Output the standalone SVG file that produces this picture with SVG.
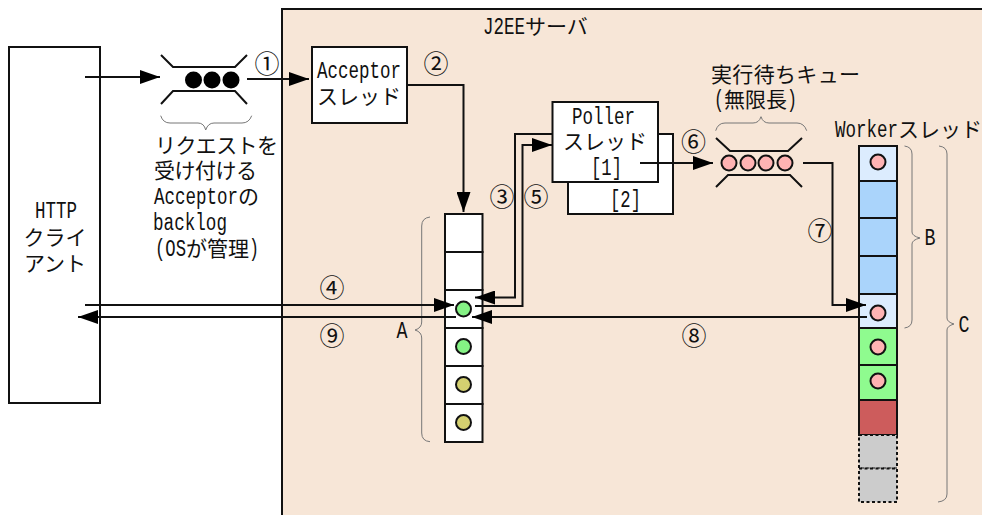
<svg xmlns="http://www.w3.org/2000/svg" width="982" height="515" viewBox="0 0 982 515">
<defs>
<marker id="ah" markerUnits="userSpaceOnUse" markerWidth="20" markerHeight="14" refX="20" refY="7" orient="auto"><path d="M0 0L20 7L0 14Z" fill="#000"/></marker>
</defs>
<style>
text{font-family:"Noto Sans CJK JP","Liberation Sans",sans-serif;font-size:21px;fill:#111}
.l{font-family:"Liberation Mono","Noto Sans CJK JP",monospace;font-size:23px}
.s{font-size:25px}
.b{fill:#fff;stroke:#111;stroke-width:2}
.c{stroke:#111;stroke-width:2;fill:none}
.a{marker-end:url(#ah)}
.br{stroke:#777;stroke-width:1;fill:none}
.dot{stroke:#111;stroke-width:2}
.p{fill:#ffb3b3}.g{fill:#85f285}.o{fill:#d4d070}.k{fill:#000;stroke:none}
.dash{fill:#ccc;stroke:#111;stroke-width:2;stroke-dasharray:3 2.5}
.n{text-anchor:middle}
</style>
<rect id="server" x="282" y="9" width="720" height="530" fill="#f7e6d7" stroke="#111" stroke-width="2"/>
<text x="483" y="34"><tspan class="l" textLength="42" lengthAdjust="spacingAndGlyphs">J2EE</tspan>サーバ</text>
<g id="client"><rect class="b" x="9" y="47" width="91" height="356"/>
<text class="l n" x="56" y="218" textLength="42" lengthAdjust="spacingAndGlyphs">HTTP</text>
<text class="n" x="55" y="245">クライ</text><text class="n" x="55" y="271">アント</text></g>
<g id="backlog-queue">
<path class="c" d="M161 55L173 67H235L247 55M161 104L173 91H235L247 104"/>
<circle class="k" cx="193.500" cy="80" r="8.500"/><circle class="k" cx="212" cy="80" r="8.500"/><circle class="k" cx="231" cy="80" r="8.500"/>
<path class="br" d="M160.700 115.700Q163 123 170 123H198Q204 123 205.700 130Q208 123 214 123H242Q249 123 251.700 115.700"/>
<text x="155" y="153" textLength="123">リクエストを</text>
<text x="154" y="178" textLength="103">受け付ける</text>
<text x="154" y="204"><tspan class="l" textLength="84" lengthAdjust="spacingAndGlyphs">Acceptor</tspan>の</text>
<text class="l" x="153" y="230" textLength="74" lengthAdjust="spacingAndGlyphs">backlog</text>
<text x="155" y="256"><tspan class="l" textLength="31" lengthAdjust="spacingAndGlyphs">(OS</tspan>が管理<tspan class="l" textLength="10" lengthAdjust="spacingAndGlyphs">)</tspan></text>
</g>
<g id="acceptor"><rect class="b" x="312" y="47" width="95" height="76"/>
<text class="l" x="317" y="78" textLength="84" lengthAdjust="spacingAndGlyphs">Acceptor</text>
<text x="317" y="104" textLength="84">スレッド</text></g>
<g id="poller2"><rect class="b" x="568" y="134" width="105" height="80"/><text class="l" x="610" y="207" textLength="31" lengthAdjust="spacingAndGlyphs">[2]</text></g>
<g id="poller1"><rect class="b" x="552.500" y="102" width="105.500" height="80"/>
<text class="l" x="572" y="124" textLength="63" lengthAdjust="spacingAndGlyphs">Poller</text>
<text x="563" y="149" textLength="84">スレッド</text>
<text class="l" x="591" y="175" textLength="31" lengthAdjust="spacingAndGlyphs">[1]</text></g>
<g id="run-queue">
<text x="711" y="82" textLength="149">実行待ちキュー</text>
<text x="714" y="107"><tspan class="l" textLength="10" lengthAdjust="spacingAndGlyphs">(</tspan>無限長<tspan class="l" textLength="10" lengthAdjust="spacingAndGlyphs">)</tspan></text>
<path class="br" d="M715.700 130.700Q718 123 725 123H753Q759 123 761 116.700Q763 123 769 123H797Q804 123 806.700 130.700"/>
<path class="c" d="M716 138L730 151H788L802 138M716 187L728 175H790L802 187"/>
<circle class="dot p" cx="729" cy="163" r="7.500"/><circle class="dot p" cx="748" cy="163" r="7.500"/><circle class="dot p" cx="766" cy="163" r="7.500"/><circle class="dot p" cx="785" cy="163" r="7.500"/>
</g>
<g id="queue-a">
<rect class="b" x="445" y="214" width="37.500" height="38"/><rect class="b" x="445" y="252" width="37.500" height="38"/><rect class="b" x="445" y="290" width="37.500" height="38"/><rect class="b" x="445" y="328" width="37.500" height="38"/><rect class="b" x="445" y="366" width="37.500" height="38"/><rect class="b" x="445" y="404" width="37.500" height="38"/>
<circle class="dot g" cx="463.500" cy="309" r="7.500"/><circle class="dot g" cx="463.500" cy="346.500" r="7.500"/><circle class="dot o" cx="463.500" cy="384.500" r="7.500"/><circle class="dot o" cx="463.500" cy="422.500" r="7.500"/>
<path class="br" d="M430 217Q421.700 218 421.700 226V322Q421.700 328 415 330Q421.700 332 421.700 338V433Q421.700 441 430 441.700"/>
<text class="l n" x="402" y="338" textLength="11" lengthAdjust="spacingAndGlyphs">A</text>
</g>
<g id="workers">
<text x="835" y="137"><tspan class="l" textLength="63" lengthAdjust="spacingAndGlyphs">Worker</tspan>スレッド</text>
<rect x="859" y="146" width="38" height="35" fill="#dcecfe" stroke="#111" stroke-width="2"/>
<rect x="859" y="181" width="38" height="37" fill="#aad4fb" stroke="#111" stroke-width="2"/>
<rect x="859" y="218" width="38" height="38" fill="#aad4fb" stroke="#111" stroke-width="2"/>
<rect x="859" y="256" width="38" height="38" fill="#aad4fb" stroke="#111" stroke-width="2"/>
<rect x="859" y="294" width="38" height="34" fill="#dcecfe" stroke="#111" stroke-width="2"/>
<rect x="859" y="328" width="38" height="37" fill="#8ffb8f" stroke="#111" stroke-width="2"/>
<rect x="859" y="365" width="38" height="35" fill="#8ffb8f" stroke="#111" stroke-width="2"/>
<rect x="859" y="400" width="38" height="35" fill="#cd5c5c" stroke="#111" stroke-width="2"/>
<rect class="dash" x="859" y="435" width="38" height="33.500"/>
<rect class="dash" x="859" y="468.500" width="38" height="33.500"/>
<circle class="dot p" cx="878" cy="162" r="7.500"/><circle class="dot p" cx="878" cy="313" r="7.500"/><circle class="dot p" cx="878" cy="347" r="7.500"/><circle class="dot p" cx="878" cy="381" r="7.500"/>
<path class="br" d="M904.500 146Q912 147 912 154V232Q912 236 920 238Q912 240 912 244V320Q912 327 904.500 328"/>
<text class="l n" x="930" y="245" textLength="11" lengthAdjust="spacingAndGlyphs">B</text>
<path class="br" d="M939 146Q947 147 947 154V318Q947 322 954 324Q947 326 947 330V494Q947 501 938 502"/>
<text class="l n" x="964" y="332" textLength="11" lengthAdjust="spacingAndGlyphs">C</text>
</g>
<g id="connectors">
<path class="c a" d="M85 77H160"/>
<path class="c a" d="M247 79H309"/>
<path class="c a" d="M407 85H463.500V212"/>
<path class="c a" d="M552 134H515V297.500H475"/>
<path class="c a" d="M475 306H522.500V145H552"/>
<path class="c a" d="M85 305H454"/>
<path class="c a" d="M456 317H78"/>
<path class="c a" d="M867 317H472"/>
<path class="c a" d="M640 163H713"/>
<path class="c a" d="M803 163H832.500V305H866"/>
</g>
<g id="step-labels">
<text class="n s" x="267" y="73">①</text><text class="n s" x="436" y="73">②</text><text class="n s" x="502" y="206">③</text><text class="n s" x="332" y="297">④</text><text class="n s" x="536" y="206">⑤</text><text class="n s" x="693.500" y="151">⑥</text><text class="n s" x="820" y="240">⑦</text><text class="n s" x="694" y="345">⑧</text><text class="n s" x="332" y="345">⑨</text>
</g>
</svg>
